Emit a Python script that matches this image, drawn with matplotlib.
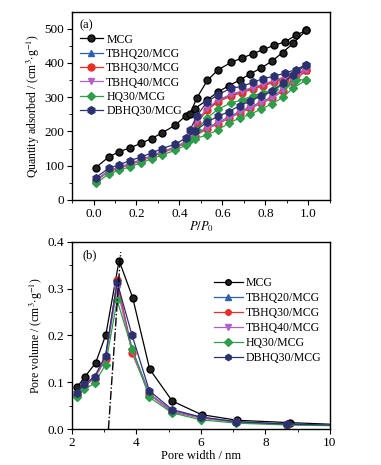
import matplotlib
matplotlib.use("Agg")
import matplotlib.pyplot as plt
from matplotlib.ticker import MultipleLocator

plt.rcParams['font.family'] = ['Liberation Serif', 'DejaVu Serif']
plt.rcParams['mathtext.fontset'] = 'stix'
plt.rcParams['font.size'] = 8.5

### (a) isotherms: adsorption branch then desorption branch
p_ads = [0.01, 0.07, 0.12, 0.17, 0.22, 0.27, 0.32, 0.38, 0.43, 0.47,
         0.53, 0.58, 0.63, 0.68, 0.73, 0.78, 0.83, 0.88, 0.93, 0.99]
p_des = [0.99, 0.94, 0.89, 0.84, 0.79, 0.74, 0.69, 0.64, 0.58, 0.53, 0.48, 0.45]

mcg_ads = [94, 125, 141, 152, 165, 179, 196, 218, 246, 266,
           292, 316, 333, 350, 368, 385, 405, 430, 458, 495]
mcg_des = [495, 480, 461, 451, 439, 426, 414, 401, 380, 349, 297, 252]

tb20_ads = [58, 85, 96, 106, 117, 129, 141, 154, 170, 190,
            212, 226, 242, 258, 271, 286, 300, 322, 348, 380]
tb20_des = [380, 368, 357, 346, 336, 326, 316, 306, 290, 265, 228, 192]

tb30_ads = [55, 82, 93, 103, 114, 126, 138, 151, 167, 186,
            208, 222, 238, 254, 267, 282, 296, 318, 345, 378]
tb30_des = [378, 365, 354, 343, 333, 323, 313, 303, 287, 262, 225, 188]

tb40_ads = [57, 84, 95, 105, 116, 128, 140, 153, 169, 188,
            210, 224, 240, 256, 269, 284, 298, 320, 346, 382]
tb40_des = [382, 370, 360, 348, 338, 328, 318, 308, 292, 268, 230, 190]

hq30_ads = [48, 75, 87, 97, 108, 120, 131, 145, 160, 178,
            190, 205, 224, 239, 250, 265, 280, 299, 327, 350]
hq30_des = [350, 351, 336, 324, 312, 304, 292, 283, 265, 240, 205, 175]

db30_ads = [65, 92, 103, 115, 125, 137, 150, 163, 180, 200,
            228, 244, 258, 275, 289, 304, 317, 341, 365, 395]
db30_des = [395, 380, 370, 361, 354, 343, 331, 326, 307, 287, 245, 205]

### (b) pore size distribution
w_mcg = [2.16, 2.40, 2.73, 3.05, 3.46, 3.88, 4.41, 5.11, 6.02, 7.13, 8.76, 10.6]
v_mcg = [0.090, 0.112, 0.141, 0.202, 0.360, 0.281, 0.128, 0.060, 0.031, 0.019, 0.014, 0.009]

w_s = [2.14, 2.38, 2.70, 3.04, 3.40, 3.86, 4.40, 5.10, 6.00, 7.10, 8.66, 10.6]
v_tb20 = [0.076, 0.094, 0.110, 0.155, 0.312, 0.172, 0.076, 0.039, 0.025, 0.016, 0.011, 0.008]
v_tb30 = [0.074, 0.092, 0.108, 0.150, 0.318, 0.163, 0.074, 0.037, 0.024, 0.015, 0.010, 0.008]
v_tb40 = [0.075, 0.093, 0.109, 0.152, 0.300, 0.166, 0.075, 0.038, 0.024, 0.015, 0.010, 0.008]
v_hq30 = [0.068, 0.085, 0.098, 0.138, 0.275, 0.172, 0.068, 0.035, 0.020, 0.013, 0.009, 0.007]
v_db30 = [0.078, 0.096, 0.112, 0.157, 0.314, 0.201, 0.082, 0.042, 0.026, 0.016, 0.011, 0.008]

guide_w = [3.13, 3.51]
guide_v = [0.0, 0.378]

names = ['MCG', 'TBHQ20/MCG', 'TBHQ30/MCG', 'TBHQ40/MCG', 'HQ30/MCG', 'DBHQ30/MCG']
colors = ['black', '#2f5fb0', '#e8302a', '#b060c8', '#2e9e4a', '#2c3270']
markers = ['o', '^', 'o', 'v', 'D', 'h']
msizes = [5, 5, 5, 5, 4.5, 5.5]

iso = [(mcg_ads, mcg_des), (tb20_ads, tb20_des), (tb30_ads, tb30_des),
       (tb40_ads, tb40_des), (hq30_ads, hq30_des), (db30_ads, db30_des)]
psd = [(w_mcg, v_mcg), (w_s, v_tb20), (w_s, v_tb30), (w_s, v_tb40),
       (w_s, v_hq30), (w_s, v_db30)]

fig = plt.figure(figsize=(3.81, 4.65), dpi=100)
ax1 = fig.add_axes([0.189, 0.570, 0.677, 0.404])
ax2 = fig.add_axes([0.189, 0.077, 0.677, 0.403])

for (ads, des), name, c, m, ms in zip(iso, names, colors, markers, msizes):
    mfc = '#222222' if name == 'MCG' else c
    ax1.plot(p_ads + p_des, ads + des, color=c, lw=0.9, marker=m, ms=ms,
             mfc=mfc, mec=c, label=name)

for (w, v), name, c, m, ms in zip(psd, names, colors, markers, msizes):
    mfc = '#222222' if name == 'MCG' else c
    ax2.plot(w, v, color=c, lw=0.9, marker=m, ms=ms, mfc=mfc, mec=c, label=name)
ax2.plot(guide_w, guide_v, color='black', lw=1.0, ls='-.')

ax1.set_xlim(-0.1, 1.1)
ax1.set_ylim(0, 548)
ax1.xaxis.set_major_locator(MultipleLocator(0.2))
ax1.xaxis.set_minor_locator(MultipleLocator(0.1))
ax1.yaxis.set_major_locator(MultipleLocator(100))
ax1.yaxis.set_minor_locator(MultipleLocator(50))
ax1.set_xlabel('$P/P_0$', labelpad=0, fontsize=9)
ax1.set_ylabel(r'Quantity adsorbed / (cm$^{3}$$\cdot$g$^{-1}$)', labelpad=2)
ax1.text(0.03, 0.96, '(a)', transform=ax1.transAxes, va='top', fontsize=9)
ax1.legend(loc='upper left', bbox_to_anchor=(0.0, 0.93), frameon=False,
           handlelength=1.9, handletextpad=0.3, labelspacing=0.2,
           borderaxespad=0.3, fontsize=8.5)

ax2.set_xlim(2, 10)
ax2.set_ylim(0, 0.4)
ax2.xaxis.set_major_locator(MultipleLocator(2))
ax2.xaxis.set_minor_locator(MultipleLocator(1))
ax2.yaxis.set_major_locator(MultipleLocator(0.1))
ax2.yaxis.set_minor_locator(MultipleLocator(0.05))
ax2.set_xlabel('Pore width / nm', labelpad=1, fontsize=9)
ax2.set_ylabel(r'Pore volume / (cm$^{3}$$\cdot$g$^{-1}$)', labelpad=2)
ax2.text(0.04, 0.96, '(b)', transform=ax2.transAxes, va='top', fontsize=9)
ax2.legend(loc='upper right', bbox_to_anchor=(1.0, 0.855), frameon=False,
           handlelength=2.4, handletextpad=0.3, labelspacing=0.25,
           borderaxespad=0.3, fontsize=8.5, markerscale=0.8)

for ax in (ax1, ax2):
    ax.tick_params(which='major', direction='out', length=3.5, width=0.8,
                   top=False, right=False, labelsize=9.5, pad=2)
    ax.tick_params(which='minor', direction='out', length=2.5, width=0.6,
                   top=False, right=False)
    for s in ax.spines.values():
        s.set_linewidth(1.0)

fig.savefig('out.png', dpi=100)
